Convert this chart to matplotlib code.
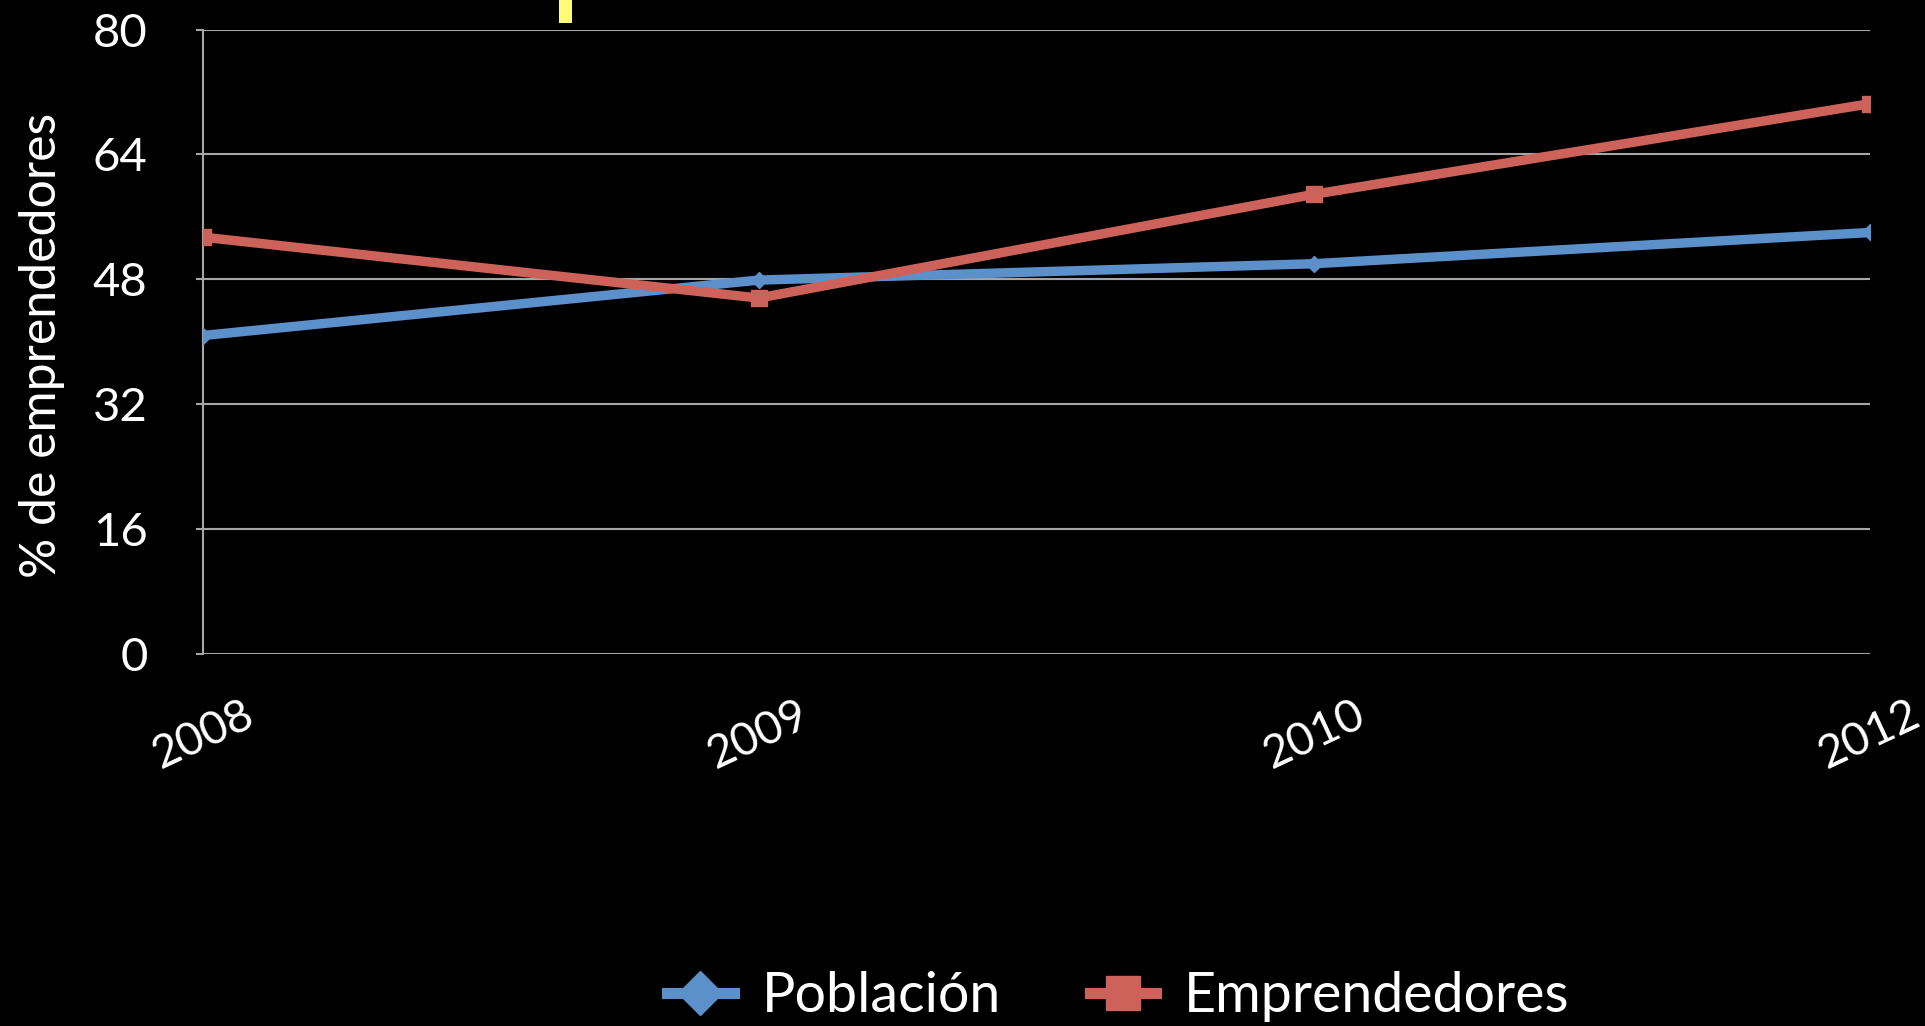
import matplotlib
matplotlib.use("Agg")
import matplotlib.pyplot as plt
from matplotlib.lines import Line2D
from matplotlib.patches import Rectangle

years = ["2008", "2009", "2010", "2012"]
poblacion = [40.8, 47.9, 50.0, 54.0]
emprendedores = [53.4, 45.6, 58.9, 70.5]
yticks = [0, 16, 32, 48, 64, 80]
series_names = ["Población", "Emprendedores"]
ylabel = "% de emprendedores"

BLUE = "#5B90CB"
RED = "#CD625A"
GRID = "#A6A6A6"

plt.rcParams['font.family'] = ['Lato', 'DejaVu Sans']

fig = plt.figure(figsize=(19.25, 10.26), dpi=100, facecolor="black")
ax = fig.add_axes([0.1055, 0.3626, 0.8659, 0.6086])
ax.set_facecolor("black")

x = list(range(len(years)))
ax.plot(x, poblacion, color=BLUE, lw=6.8, marker="D", ms=8, zorder=3)
ax.plot(x, emprendedores, color=RED, lw=6.8, marker="s", ms=11, zorder=3)

ax.set_xlim(0, len(years) - 1)
ax.set_ylim(0, 80)
ax.set_yticks(yticks)
ax.set_yticklabels([str(v) for v in yticks])
ax.set_xticks(x)
ax.set_xticklabels(years, rotation=25, ha="center", va="top")

ax.grid(axis="y", color=GRID, lw=1.5, zorder=1)
for s in ["top", "right", "bottom"]:
    ax.spines[s].set_visible(False)
ax.spines["left"].set_color(GRID)
ax.spines["left"].set_linewidth(1.5)
ax.tick_params(axis="y", colors=GRID, length=5, width=1.5, pad=35, labelsize=34, labelcolor="white")
ax.tick_params(axis="x", length=0, pad=28, labelsize=33, labelcolor="white")

ax.set_ylabel(ylabel, color="white", fontsize=36)
ax.yaxis.set_label_coords(-0.083, 0.495)

handles = [
    Line2D([], [], color=BLUE, lw=8, marker="D", ms=22),
    Line2D([], [], color=RED, lw=8, marker="s", ms=24),
]
leg = fig.legend(handles, series_names, loc="center", bbox_to_anchor=(0.581, 1 - 997 / 1026),
                 ncol=2, frameon=False, fontsize=40, labelcolor="white",
                 handlelength=1.2, handletextpad=0.5, columnspacing=1.6)

fig.patches.append(Rectangle((559 / 1925, 1 - 23 / 1026), 13 / 1925, 23 / 1026,
                             transform=fig.transFigure, facecolor="#FFFC7A", edgecolor="none"))

fig.savefig("out.png", dpi=100, facecolor="black")
